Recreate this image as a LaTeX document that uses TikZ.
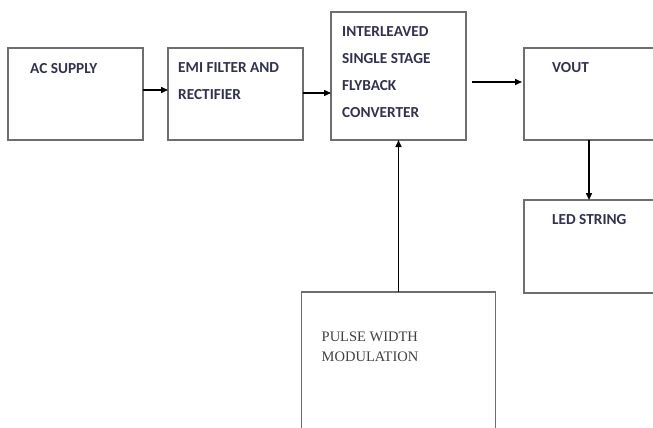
\documentclass[tikz,border=0pt]{standalone}
\usepackage{fontspec}
\setmainfont{Carlito}
\newfontfamily\pwmfont{Liberation Serif}
\usetikzlibrary{positioning, calc, arrows.meta}

\definecolor{boxgray}{RGB}{110,110,110}
\definecolor{labelnavy}{RGB}{50,50,78}

\begin{document}
\begin{tikzpicture}
% style
	[x=1pt, y=-1pt,
	blockbox/.style={rectangle, draw=boxgray, line width=1.5pt, inner sep=0pt, outer sep=0pt, minimum width=135pt, minimum height=92pt},
	blocklabel/.style={inner sep=0pt, align=left, text=labelnavy, font=\bfseries\fontsize{15.3}{27}\selectfont},
	pwmlabel/.style={inner sep=0pt, align=left, text=black!75, font=\pwmfont\fontsize{14.5}{20}\selectfont},
	flow/.style={-{Triangle[length=7pt, width=6pt]}, line width=1.5pt, black}]

	\useasboundingbox (0,0) rectangle (653,428);

	% blocks
	\node [blockbox, anchor=north west] (ac) at (8,48) {};
	\node [blockbox] (emi) [right=25pt of ac] {};
	\node [blockbox, minimum height=128pt] (conv) [right=28pt of emi.south east, anchor=south west] {};
	\node [blockbox, minimum width=132pt] (vout) [right=58pt of conv.south east, anchor=south west] {};
	\node [blockbox, minimum width=132pt, minimum height=93pt] (led) [below=60pt of vout] {};
	\node [blockbox, minimum width=194pt, minimum height=150pt] (pwm) [below=152pt of conv] {};

	% texts
	\node [blocklabel] (acT) [below right=15pt and 22pt of ac.north west] {AC SUPPLY};
	\node [blocklabel] (emiT) [below right=14pt and 10pt of emi.north west] {EMI FILTER AND\\RECTIFIER};
	\node [blocklabel] (convT) [below right=14pt and 11pt of conv.north west] {INTERLEAVED\\SINGLE STAGE\\FLYBACK\\CONVERTER};
	\node [blocklabel] (voutT) [below right=14pt and 28pt of vout.north west] {VOUT};
	\node [blocklabel] (ledT) [below right=14pt and 28pt of led.north west] {LED STRING};
	\node [pwmlabel] (pwmT) [below right=40pt and 20pt of pwm.north west] {PULSE WIDTH\\MODULATION};

	% connectors
	\draw [flow] ([yshift=4pt]ac.east) -- ([yshift=4pt]emi.west);
	\draw [flow] ([yshift=1pt]emi.east) -- ([yshift=1pt]emi.east -| conv.west);
	\draw [flow] ($(conv.east |- vout.west)+(6pt,12pt)$) -- ($(vout.west)+(-2pt,12pt)$);
	\draw [flow] ([xshift=-1pt]vout.south) -- ([xshift=-1pt]led.north);
	\draw [flow] (pwm.north) -- (pwm.north |- conv.south);
\end{tikzpicture}
\end{document}
